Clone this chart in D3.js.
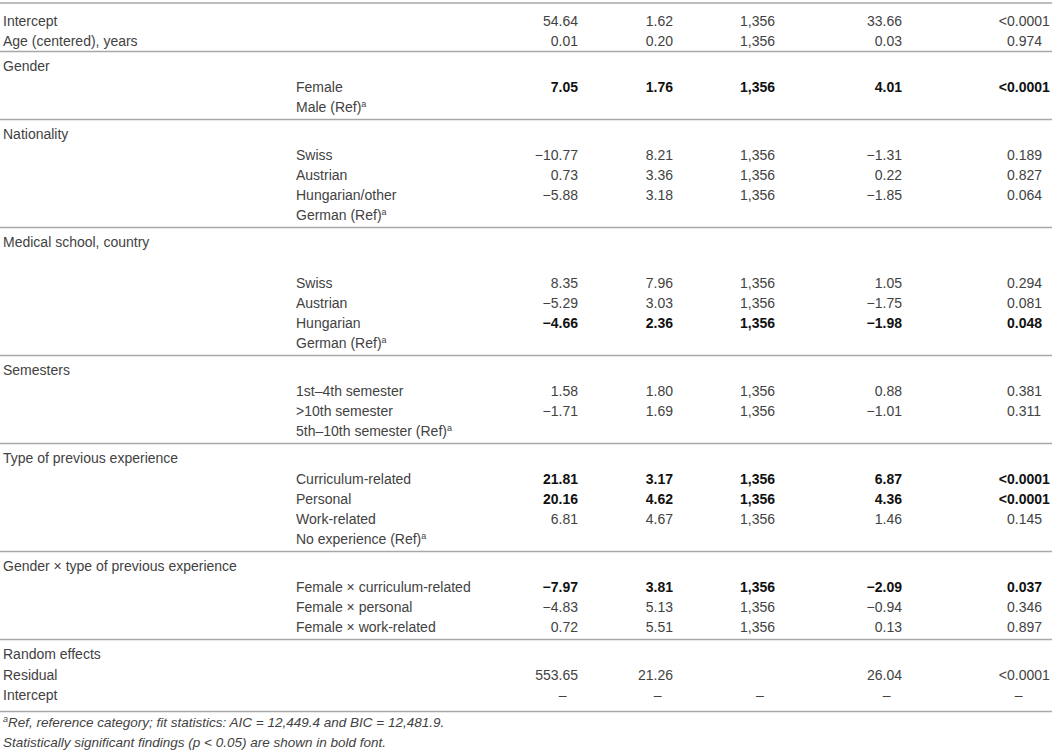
<!DOCTYPE html>
<html><head>
<meta charset="UTF-8">
<title>Mixed model table</title>
<script src="https://d3js.org/d3.v7.min.js"></script>
<style>
  body { margin: 0; background: #fff; }
  text { font-family: "Liberation Sans", Arial, sans-serif; font-size: 14px; fill: #424242; }
  text.bold { font-weight: bold; fill: #111; }
  text.foot { font-style: italic; font-size: 13.5px; }
  .rule { stroke: #a8a8a8; stroke-width: 1.3px; }
</style>
</head>
<body>
<script>

// table content, one entry per row
var rowLabels = ["Intercept", "Age (centered), years",
  "Gender", "", "",
  "Nationality", "", "", "", "",
  "Medical school, country", "", "", "", "", "",
  "Semesters", "", "", "",
  "Type of previous experience", "", "", "", "",
  "Gender \u00d7 type of previous experience", "", "", "",
  "Random effects", "Residual", "Intercept"];

var subLabels = ["", "",
  "", "Female", "Male (Ref)",
  "", "Swiss", "Austrian", "Hungarian/other", "German (Ref)",
  "", "", "Swiss", "Austrian", "Hungarian", "German (Ref)",
  "", "1st\u20134th semester", ">10th semester", "5th\u201310th semester (Ref)",
  "", "Curriculum-related", "Personal", "Work-related", "No experience (Ref)",
  "", "Female \u00d7 curriculum-related", "Female \u00d7 personal", "Female \u00d7 work-related",
  "", "", ""];

var estimates = ["54.64", "0.01", "", "7.05", "", "", "\u221210.77", "0.73", "\u22125.88", "",
  "", "", "8.35", "\u22125.29", "\u22124.66", "", "", "1.58", "\u22121.71", "",
  "", "21.81", "20.16", "6.81", "", "", "\u22127.97", "\u22124.83", "0.72", "", "553.65", "\u2013"];
var stdErrors = ["1.62", "0.20", "", "1.76", "", "", "8.21", "3.36", "3.18", "",
  "", "", "7.96", "3.03", "2.36", "", "", "1.80", "1.69", "",
  "", "3.17", "4.62", "4.67", "", "", "3.81", "5.13", "5.51", "", "21.26", "\u2013"];
var dfs = ["1,356", "1,356", "", "1,356", "", "", "1,356", "1,356", "1,356", "",
  "", "", "1,356", "1,356", "1,356", "", "", "1,356", "1,356", "",
  "", "1,356", "1,356", "1,356", "", "", "1,356", "1,356", "1,356", "", "", "\u2013"];
var tValues = ["33.66", "0.03", "", "4.01", "", "", "\u22121.31", "0.22", "\u22121.85", "",
  "", "", "1.05", "\u22121.75", "\u22121.98", "", "", "0.88", "\u22121.01", "",
  "", "6.87", "4.36", "1.46", "", "", "\u22122.09", "\u22120.94", "0.13", "", "26.04", "\u2013"];
var pValues = ["<0.0001", "0.974", "", "<0.0001", "", "", "0.189", "0.827", "0.064", "",
  "", "", "0.294", "0.081", "0.048", "", "", "0.381", "0.311", "",
  "", "<0.0001", "<0.0001", "0.145", "", "", "0.037", "0.346", "0.897", "", "<0.0001", "\u2013"];

// rows with p < 0.05 (bold)
var significantRows = [3, 14, 21, 22, 26];
// rows that open a new block (a rule is drawn above them)
var blockStarts = [2, 5, 10, 16, 20, 25, 29];

var footnotes = ["Ref, reference category; fit statistics: AIC = 12,449.4 and BIC = 12,481.9.",
  "Statistically significant findings (p < 0.05) are shown in bold font."];

var width = 1055, height = 753;

var svg = d3.select("body").append("svg")
    .attr("width", width)
    .attr("height", height);

// vertical layout: 20px rows, padding around each rule
var rowY = [], ruleY = [3];
var y = 21.5;
rowLabels.forEach(function(d, i) {
  if (i > 0) {
    if (blockStarts.indexOf(i) >= 0) {
      var ly = rowY[i - 1] + (ruleY.length == 1 ? 10 : 12);
      ruleY.push(ly);
      y = ly + 14.5;
    } else if (blockStarts.indexOf(i - 1) >= 0) {
      y += 21.5;
    } else {
      y += 20;
    }
  }
  rowY.push(y);
});
var bottomRule = rowY[rowY.length - 1] + 16;
ruleY.push(bottomRule);

// rules
svg.selectAll("line.rule").data(ruleY).enter()
  .append("line")
  .attr("class", "rule")
  .attr("x1", 0).attr("x2", 1052)
  .attr("y1", function(d) { return d; })
  .attr("y2", function(d) { return d; });

// label columns
function addLabel(x, txt, i) {
  if (!txt) return;
  var isRef = /\(Ref\)$/.test(txt);
  var t = svg.append("text")
    .attr("x", x).attr("y", rowY[i]).attr("dy", "0.35em");
  t.append("tspan").text(txt);
  if (isRef) {
    t.append("tspan").text("a").attr("font-size", "9px").attr("dy", "-5");
  }
}
rowLabels.forEach(function(d, i) { addLabel(3, d, i); });
subLabels.forEach(function(d, i) { addLabel(296, d, i); });

// numeric columns, aligned on the decimal point
var columns = [
  {key: "est", values: estimates, ref: ".00"},
  {key: "se", values: stdErrors, ref: ".00"},
  {key: "df", values: dfs, ref: ""},
  {key: "t", values: tValues, ref: ".00"},
  {key: "p", values: pValues, ref: ".000"}
];
var xRight = d3.scaleOrdinal()
  .domain(columns.map(function(c) { return c.key; }))
  .range([578, 673, 775, 902, 1042]);

function textWidth(s, bold) {
  var t = svg.append("text").classed("bold", bold).text(s);
  var w = t.node().getComputedTextLength();
  t.remove();
  return w;
}

columns.forEach(function(col) {
  col.values.forEach(function(v, i) {
    if (!v) return;
    var bold = significantRows.indexOf(i) >= 0;
    var right = xRight(col.key);
    var decX = right - textWidth(col.ref, bold);
    var t = svg.append("text")
      .attr("y", rowY[i]).attr("dy", "0.35em")
      .classed("bold", bold)
      .text(v);
    var dot = v.indexOf(".");
    if (v == "\u2013") {
      t.attr("text-anchor", "middle").attr("x", col.ref ? decX + 4 : right - 15);
    } else if (dot >= 0) {
      var pre = t.node().getSubStringLength(0, dot);
      t.attr("x", decX - pre);
    } else {
      t.attr("text-anchor", "end").attr("x", right);
    }
  });
});

// footnotes
var f1 = svg.append("text").attr("class", "foot")
  .attr("x", 3).attr("y", bottomRule + 15).attr("dy", "0.35em");
f1.append("tspan").text("a").attr("font-size", "9px").attr("dy", "-5");
f1.append("tspan").text(footnotes[0]).attr("dy", "5");

svg.append("text").attr("class", "foot")
  .attr("x", 3).attr("y", bottomRule + 31).attr("dy", "0.35em")
  .text(footnotes[1]);

</script>
</body>
</html>
